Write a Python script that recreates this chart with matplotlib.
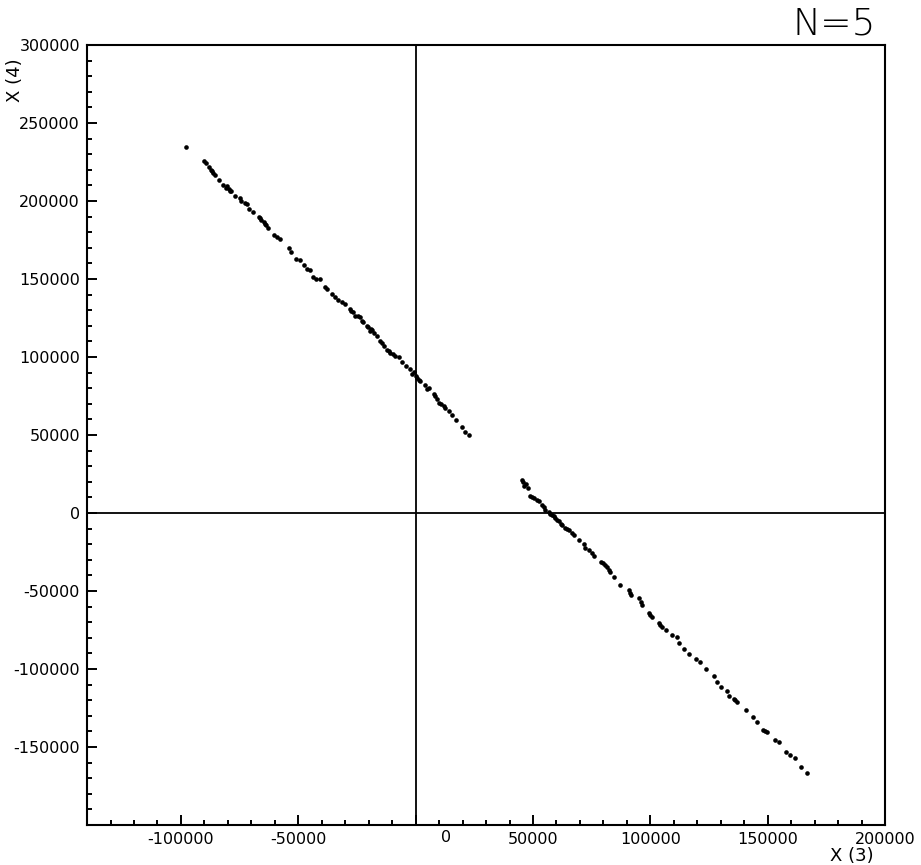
import numpy as np
import matplotlib
matplotlib.use("Agg")
import matplotlib.pyplot as plt
from matplotlib.ticker import MultipleLocator, FixedLocator
from matplotlib.transforms import offset_copy

# upper-left branch, X(3) vs X(4)
x_a = [-97920, -90380, -89400, -87950, -87260, -86240, -85690, -83980, -82150, -80440,
       -79720, -78740, -76860, -75030, -74600, -72900, -71750, -70890, -69490, -66930,
       -65780, -64800, -63820, -62960, -60530, -59130, -57680, -54140, -53160, -50860,
       -49150, -47750, -46340, -45190, -43780, -42330, -40920, -38500, -37810, -34230,
       -33250, -31420, -29970, -28140, -26730, -25710, -23870, -22470, -20760, -19060,
       -19310, -17900, -16500, -15050, -13640, -12230, -10790, -8650, -7250, -5840,
       -4140, -2260, -850, 130, 1280, 4140, 4820, 7670, 9080, 10100,
       11940, 14070, 15470, 17180, 19740, 21190, 22590,
       -86800, -80900, -79200, -66200, -64200, -35700, -27400, -24700, -22900, -20300,
       -18600, -14300, -11300, -9800, -1500, 700, 2000, 5800, 8300, 10900, 12700]
y_a = [234880, 225870, 224580, 221560, 219880, 218150, 216670, 213450, 209970, 209590,
       207400, 206370, 203150, 202060, 200130, 198840, 198390, 195170, 193050, 189830,
       188100, 186620, 184490, 182950, 178060, 176960, 175870, 170080, 167310, 163000,
       161970, 158750, 156560, 155530, 151220, 150130, 150130, 144790, 143310, 138350,
       136610, 135140, 134040, 130820, 128700, 126580, 125480, 122270, 120140, 117950,
       116920, 115380, 113710, 110490, 107270, 104700, 102510, 100840, 99740, 96970,
       94400, 92210, 90090, 87970, 85390, 81920, 79340, 76130, 73360, 70790,
       68660, 65440, 62610, 59650, 55340, 51930, 49740,
       219000, 208400, 206100, 188900, 185400, 140300, 129800, 126100, 123300, 119500,
       117300, 108700, 103600, 101800, 89200, 86500, 84500, 80300, 75100, 69600, 67400]

# lower-right branch
x_b = [45740, 46040, 47750, 48600, 50300, 52430, 53840, 55290, 56700, 58100,
       59560, 60960, 62370, 63820, 65220, 67360, 69490, 71620, 72340, 75160,
       76180, 78990, 80870, 82280, 83000, 84410, 87260, 90800, 91950, 95060,
       96470, 99330, 100740, 103590, 105000, 106450, 109260, 111390, 112120, 114250,
       116380, 119240, 120940, 123500, 127040, 128190, 130150, 132710, 133430, 135560,
       136720, 140550, 143660, 145500, 148050, 149500, 153040, 154750, 157600, 159440,
       161570, 164250, 166560,
       45200, 47000, 49400, 51500, 54500, 57300, 58900, 60200, 61800, 64500,
       66500, 73700, 79900, 81600, 91300, 95800, 100000, 104300, 136100, 148700]
y_b = [19760, 17570, 16090, 11130, 9650, 7530, 5340, 2120, 450, -1090,
       -3220, -5340, -7530, -9650, -11130, -13960, -17180, -19760, -22520, -25740,
       -27860, -31080, -33270, -36490, -37520, -40730, -46140, -49360, -52570, -54700,
       -59010, -64350, -66470, -70790, -72910, -75100, -78310, -79340, -83210, -86870,
       -90090, -93310, -95430, -99740, -104700, -108300, -111520, -114090, -117570, -119050,
       -121170, -126580, -130820, -134040, -139000, -140090, -145430, -146910, -153350, -154890,
       -157210, -162610, -166670,
       21000, 18500, 10300, 8400, 3800, -500, -2200, -4500, -6900, -10200,
       -12900, -23900, -32100, -34500, -51000, -56800, -65500, -71800, -120100, -139500]

x_major = [-100000, -50000, 0, 50000, 100000, 150000, 200000]
y_major = [-150000, -100000, -50000, 0, 50000, 100000, 150000, 200000, 250000, 300000]

fig = plt.figure(figsize=(9.21, 8.65), dpi=100)
ax = fig.add_axes([0.0945, 0.0462, 0.8665, 0.9018])

ax.scatter(x_a, y_a, s=11, c="black", linewidths=0)
ax.scatter(x_b, y_b, s=11, c="black", linewidths=0)
ax.axhline(0, color="black", lw=1.3)
ax.axvline(0, color="black", lw=1.3)

ax.set_xlim(-140000, 200000)
ax.set_ylim(-200000, 300000)
ax.xaxis.set_major_locator(FixedLocator(x_major))
ax.yaxis.set_major_locator(FixedLocator(y_major))
ax.xaxis.set_minor_locator(MultipleLocator(10000))
ax.yaxis.set_minor_locator(MultipleLocator(10000))
ax.set_xticklabels([str(v) if v != 0 else "" for v in x_major])
ax.set_yticklabels([str(v) for v in y_major])
ax.tick_params(which="both", direction="in", top=False, right=False,
               width=1.4, labelsize=11.5)
ax.tick_params(which="major", length=7, pad=5)
ax.tick_params(which="minor", length=3.5)
for s in ax.spines.values():
    s.set_linewidth(1.5)

# the "0" label sits to the right of its tick in the original
ax.text(0, 0, "0", fontsize=11.5, ha="center", va="top",
        transform=offset_copy(ax.get_xaxis_transform(), fig=fig, x=30, y=-5, units="dots"))

fig.text(852 / 921, 1 - 856 / 865, "X (3)", fontsize=13, ha="center", va="center")
fig.text(15 / 921, 1 - 80 / 865, "X (4)", fontsize=13, rotation=90, ha="center", va="center")
fig.text(834 / 921, 1 - 24 / 865, "N=5", fontsize=27, fontweight="light",
         ha="center", va="center")

fig.savefig("out.png", dpi=100)
